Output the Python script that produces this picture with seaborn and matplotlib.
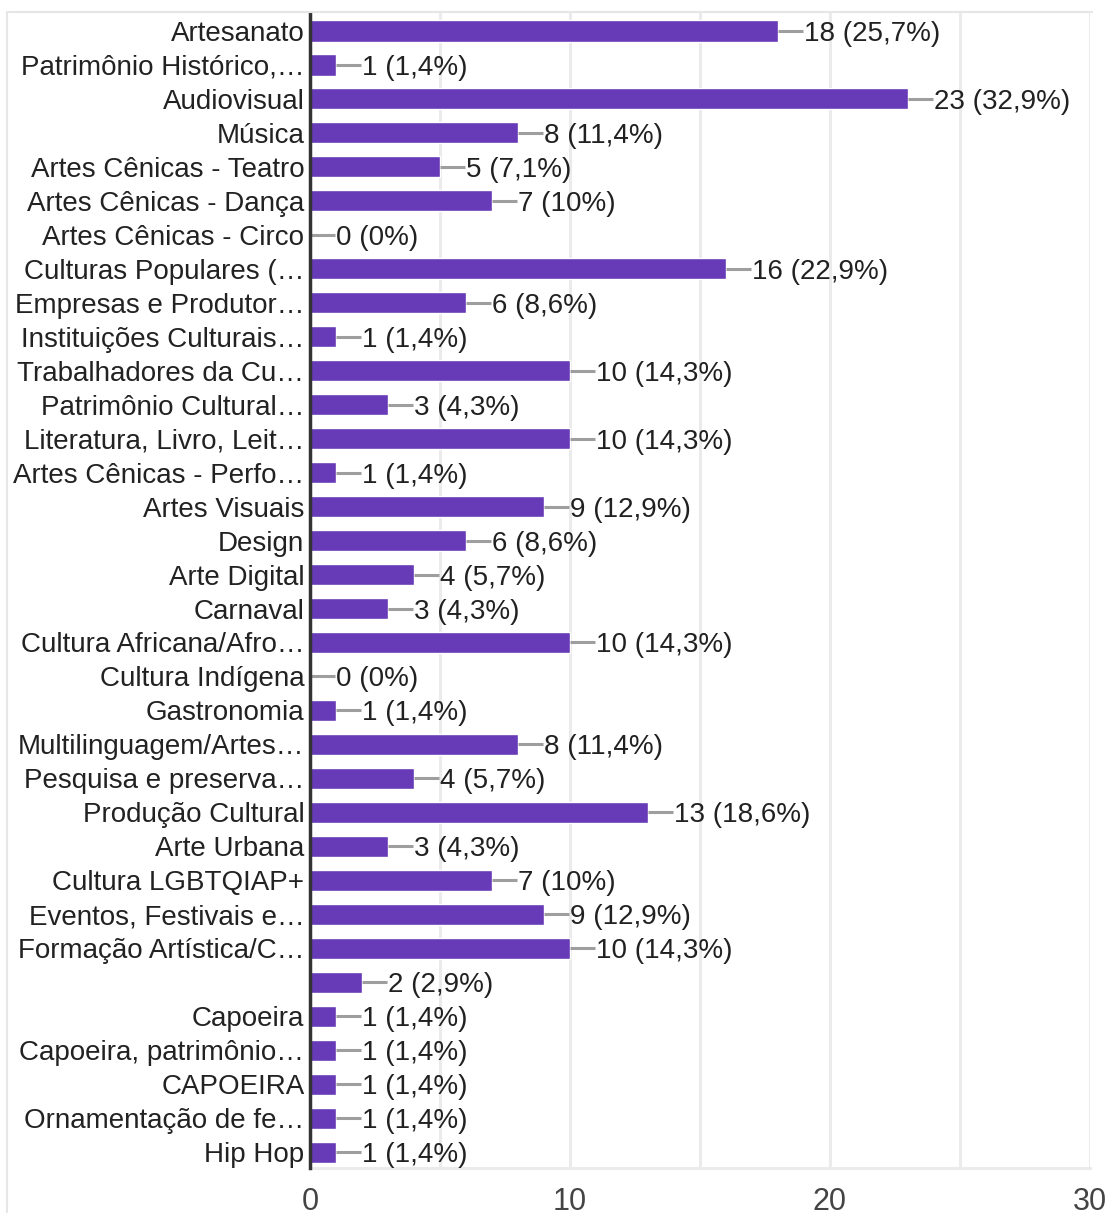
import matplotlib
matplotlib.use("Agg")
import matplotlib.pyplot as plt
import seaborn as sns
import pandas as pd
from matplotlib.lines import Line2D
from matplotlib.ticker import MultipleLocator

categories = [
    "Artesanato", "Patrimônio Histórico,…", "Audiovisual", "Música",
    "Artes Cênicas - Teatro", "Artes Cênicas - Dança", "Artes Cênicas - Circo",
    "Culturas Populares (…", "Empresas e Produtor…", "Instituições Culturais…",
    "Trabalhadores da Cu…", "Patrimônio Cultural…", "Literatura, Livro, Leit…",
    "Artes Cênicas - Perfo…", "Artes Visuais", "Design", "Arte Digital", "Carnaval",
    "Cultura Africana/Afro…", "Cultura Indígena", "Gastronomia",
    "Multilinguagem/Artes…", "Pesquisa e preserva…", "Produção Cultural",
    "Arte Urbana", "Cultura LGBTQIAP+", "Eventos, Festivais e…",
    "Formação Artística/C…", "", "Capoeira", "Capoeira, patrimônio…", "CAPOEIRA",
    "Ornamentação de fe…", "Hip Hop",
]
counts = [18, 1, 23, 8, 5, 7, 0, 16, 6, 1, 10, 3, 10, 1, 9, 6, 4, 3, 10, 0, 1,
          8, 4, 13, 3, 7, 9, 10, 2, 1, 1, 1, 1, 1]
percents = ["25,7%", "1,4%", "32,9%", "11,4%", "7,1%", "10%", "0%", "22,9%",
            "8,6%", "1,4%", "14,3%", "4,3%", "14,3%", "1,4%", "12,9%", "8,6%",
            "5,7%", "4,3%", "14,3%", "0%", "1,4%", "11,4%", "5,7%", "18,6%",
            "4,3%", "10%", "12,9%", "14,3%", "2,9%", "1,4%", "1,4%", "1,4%",
            "1,4%", "1,4%"]
x_ticks = [0, 10, 20, 30]

sns.set_theme(style="white")
plt.rcParams['font.family'] = ['Liberation Sans', 'DejaVu Sans']

W, H = 1108, 1213
fig = plt.figure(figsize=(W / 100, H / 100), dpi=100)
left, right, top, bottom = 310, 1090, 13, 1168
ax = fig.add_axes([left / W, 1 - bottom / H, (right - left) / W, (bottom - top) / H])

df = pd.DataFrame({"cat": categories, "n": counts})
sns.barplot(data=df, y="cat", x="n", orient="h", color="#673ab7",
            saturation=1, width=0.62, ax=ax, order=categories)

ax.set_xlim(0, 30)
ax.set_ylim(len(categories) - 1 + 0.47, -0.53)
ax.xaxis.set_minor_locator(MultipleLocator(5))
ax.set_xticks(x_ticks)
ax.grid(True, axis="x", which="both", color="#ebebeb", lw=2.2, zorder=0)
ax.set_axisbelow(True)
ax.set_xlabel("")
ax.set_ylabel("")
for s in ["top", "right"]:
    ax.spines[s].set_visible(False)
ax.spines["bottom"].set_color("#ebebeb")
ax.spines["bottom"].set_linewidth(2.2)
ax.spines["left"].set_color("#333333")
ax.spines["left"].set_linewidth(2.5)
ax.spines["left"].set_zorder(5)
ax.tick_params(axis="y", length=0, pad=4, labelsize=20, labelcolor="#222222")
for lbl in ax.get_yticklabels():
    lbl.set_verticalalignment("center_baseline")
ax.tick_params(axis="x", which="both", length=0, pad=14, labelsize=22, labelcolor="#444444")

for i, (v, p) in enumerate(zip(counts, percents)):
    ax.plot([v, v + 0.95], [i, i], color="#9e9e9e", lw=2.2, solid_capstyle="butt", zorder=4)
    ax.text(v + 1.0, i, f"{v} ({p})", va="center_baseline", ha="left", fontsize=20,
            color="#212121", zorder=4)

# card frame lines
fig.add_artist(Line2D([7 / W, 7 / W], [0, 1 - 12 / H], color="#e6e6e6", lw=1.5))
fig.add_artist(Line2D([7 / W, 1092 / W], [1 - 12 / H, 1 - 12 / H], color="#e6e6e6", lw=1.5))

fig.savefig("out.png", dpi=100)
